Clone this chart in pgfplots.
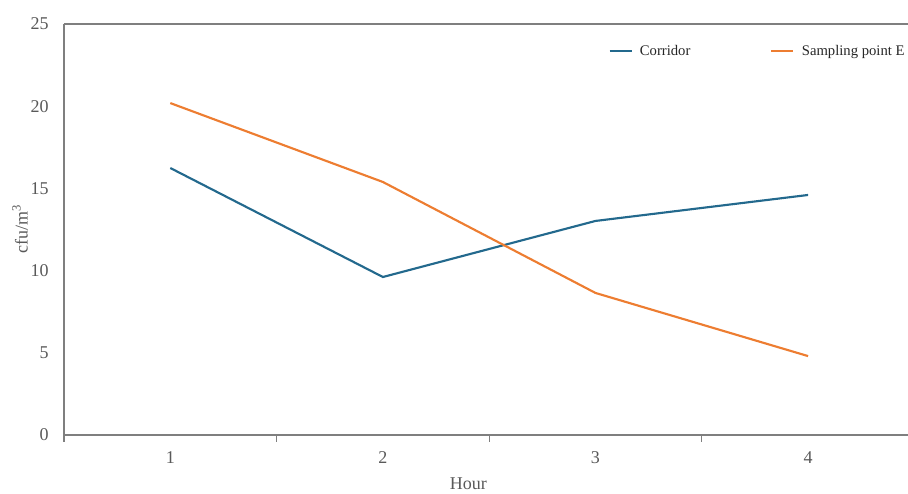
\documentclass[border=0pt]{standalone}
\usepackage{pgfplots}
\pgfplotsset{compat=1.18}
\usepackage{fontspec}
\setmainfont{Liberation Serif}
\definecolor{corr}{HTML}{23698D}
\definecolor{sampE}{HTML}{ED7D31}
\definecolor{txtgray}{HTML}{595959}
\definecolor{axgray}{HTML}{7F7F7F}

\begin{document}
\begin{tikzpicture}
\begin{axis}[
    scale only axis,
    width=633pt, height=308.25pt,
    xmin=0.5, xmax=4.47,
    ymin=0, ymax=25,
    axis x line*=box,
    axis y line*=left,
    axis line style={axgray, line width=0.8pt},
    xtick={1,2,3,4},
    minor xtick={0.5,1.5,2.5,3.5},
    ytick={0,5,10,15,20,25},
    major tick length=0pt,
    minor tick length=5pt,
    tick align=outside,
    tick style={axgray, line width=0.8pt},
    xtick pos=bottom,
    every tick label/.append style={font=\fontsize{13.5}{15}\selectfont, text=txtgray},
    /pgf/number format/assume math mode=true,
    xticklabel style={yshift=-9pt},
    yticklabel style={xshift=-8pt},
    xlabel={Hour},
    ylabel={cfu/m\textsuperscript{3}},
    label style={font=\fontsize{13.5}{15}\selectfont, text=txtgray},
    xlabel style={at={(axis description cs:0.479,-0.119)}, anchor=center},
    ylabel style={at={(axis description cs:-0.052,0.5)}, anchor=center},
    legend columns=2,
    legend style={draw=none, fill=none, at={(rel axis cs:0.640,0.934)}, anchor=west,
        font=\fontsize{11}{13}\selectfont, text=black!85,
        /tikz/every even column/.append style={column sep=58pt}},
    legend image code/.code={\draw[#1] (0pt,0pt) -- (16.5pt,0pt); \path (20pt,0pt);},
]
\addplot[corr, line width=1.6pt] coordinates {(1,16.24) (2,9.61) (3,13.02) (4,14.6)};
\addlegendentry{Corridor}
\addplot[sampE, line width=1.6pt] coordinates {(1,20.19) (2,15.39) (3,8.64) (4,4.8)};
\addlegendentry{Sampling point E}
\coordinate (sw) at (rel axis cs:0,0);
\coordinate (ne) at (rel axis cs:1,1);
\end{axis}
\pgfresetboundingbox
\useasboundingbox ([xshift=-48pt,yshift=-44.25pt]sw) rectangle ([yshift=18pt]ne);
\end{tikzpicture}
\end{document}
